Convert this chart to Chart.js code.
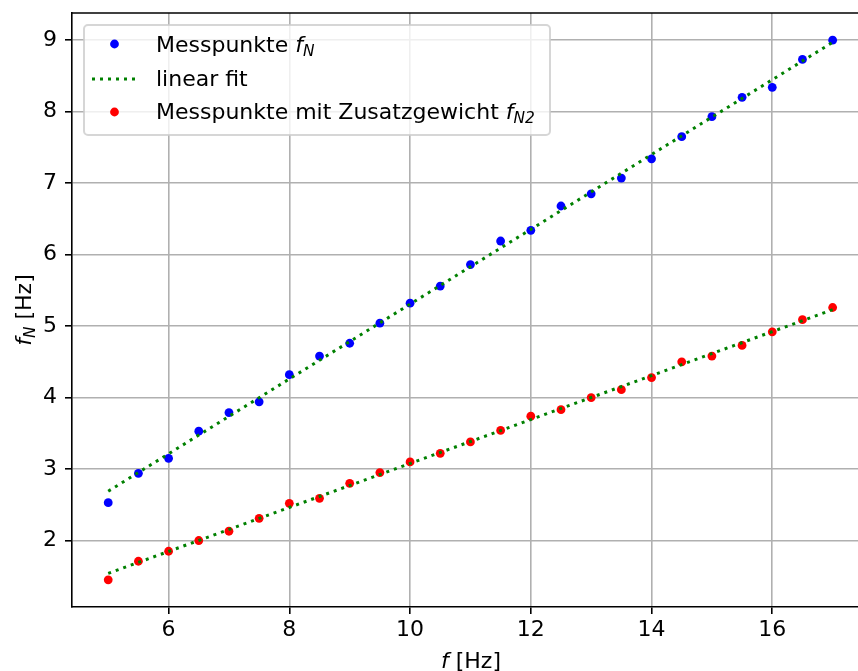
<!DOCTYPE html>
<html>
<head>
<meta charset="utf-8">
<script src="https://cdn.jsdelivr.net/npm/chart.js@4"></script>
<style>
  html, body { margin: 0; padding: 0; background: #fff; }
  #chart { display: block; }
</style>
</head>
<body>
<canvas id="chart" width="858" height="671"></canvas>
<script>
var fVals = [5, 5.5, 6, 6.5, 7, 7.5, 8, 8.5, 9, 9.5, 10, 10.5, 11, 11.5, 12, 12.5, 13, 13.5, 14, 14.5, 15, 15.5, 16, 16.5, 17];
var fN = [2.53, 2.94, 3.15, 3.53, 3.79, 3.94, 4.32, 4.58, 4.76, 5.04, 5.32, 5.56, 5.86, 6.19, 6.34, 6.68, 6.85, 7.07, 7.34, 7.65, 7.93, 8.20, 8.34, 8.73, 9.00];
var fN2 = [1.45, 1.71, 1.85, 2.00, 2.13, 2.31, 2.52, 2.59, 2.80, 2.95, 3.10, 3.22, 3.38, 3.54, 3.74, 3.83, 4.00, 4.11, 4.28, 4.50, 4.58, 4.73, 4.92, 5.09, 5.26];

// fit line end points
var fitX = [5, 17];
var fitN = [2.69, 8.97];
var fitN2 = [1.54, 5.23];

var xTicks = [6, 8, 10, 12, 14, 16];
var yTicks = [2, 3, 4, 5, 6, 7, 8, 9];

var FONT = "'DejaVu Sans', sans-serif";
var FS = 22;

function toPoints(xs, ys) {
  var pts = [];
  for (var i = 0; i < xs.length; i++) pts.push({ x: xs[i], y: ys[i] });
  return pts;
}

// draw text made of parts: {t, it, sub}
function richWidth(ctx, parts, size) {
  var w = 0;
  parts.forEach(function(p) {
    ctx.font = (p.it ? 'italic ' : '') + (p.sub ? size * 0.7 : size) + 'px ' + FONT;
    w += ctx.measureText(p.t).width;
  });
  return w;
}
function drawRich(ctx, parts, x, y, size, align) {
  var cx = align === 'center' ? x - richWidth(ctx, parts, size) / 2 : x;
  ctx.textBaseline = 'alphabetic';
  ctx.textAlign = 'left';
  parts.forEach(function(p) {
    ctx.font = (p.it ? 'italic ' : '') + (p.sub ? size * 0.7 : size) + 'px ' + FONT;
    ctx.fillText(p.t, cx, y + (p.sub ? size * 0.2 : 0));
    cx += ctx.measureText(p.t).width;
  });
}

// no extra room for edge tick labels, the plot box is fixed
function noPad(s) {
  s.paddingTop = 0; s.paddingBottom = 0; s.paddingLeft = 0; s.paddingRight = 0;
}

// top spine, axis titles and legend
var extras = {
  id: 'extras',
  afterDraw: function(chart) {
    var ctx = chart.ctx;
    var a = chart.chartArea;
    ctx.save();
    ctx.strokeStyle = '#000';
    ctx.lineWidth = 1.6;
    ctx.beginPath();
    ctx.moveTo(a.left - 0.8, a.top);
    ctx.lineTo(a.right, a.top);
    ctx.stroke();

    ctx.fillStyle = '#000';
    // x title
    drawRich(ctx, [{ t: 'f', it: true }, { t: ' [Hz]' }], 471, 668, FS, 'center');
    // y title
    ctx.save();
    ctx.translate(31, 310);
    ctx.rotate(-Math.PI / 2);
    drawRich(ctx, [{ t: 'f', it: true }, { t: 'N', it: true, sub: true }, { t: ' [Hz]' }], 0, 0, FS, 'center');
    ctx.restore();

    // legend box
    var bx = 84, by = 25, bw = 466, bh = 110, r = 4;
    ctx.beginPath();
    ctx.moveTo(bx + r, by);
    ctx.arcTo(bx + bw, by, bx + bw, by + bh, r);
    ctx.arcTo(bx + bw, by + bh, bx, by + bh, r);
    ctx.arcTo(bx, by + bh, bx, by, r);
    ctx.arcTo(bx, by, bx + bw, by, r);
    ctx.closePath();
    ctx.fillStyle = 'rgba(255,255,255,0.8)';
    ctx.fill();
    ctx.strokeStyle = 'rgba(204,204,204,0.8)';
    ctx.lineWidth = 2;
    ctx.stroke();

    // legend entries
    ctx.fillStyle = '#0000ff';
    ctx.beginPath(); ctx.arc(114.5, 44, 4.4, 0, Math.PI * 2); ctx.fill();
    ctx.fillStyle = '#ff0000';
    ctx.beginPath(); ctx.arc(114.5, 112, 4.4, 0, Math.PI * 2); ctx.fill();
    ctx.strokeStyle = '#008000';
    ctx.lineWidth = 3;
    ctx.setLineDash([3, 5]);
    ctx.beginPath(); ctx.moveTo(92, 79); ctx.lineTo(138, 79); ctx.stroke();
    ctx.setLineDash([]);

    ctx.fillStyle = '#000';
    drawRich(ctx, [{ t: 'Messpunkte ' }, { t: 'f', it: true }, { t: 'N', it: true, sub: true }], 156, 52, FS);
    drawRich(ctx, [{ t: 'linear fit' }], 156, 86, FS);
    drawRich(ctx, [{ t: 'Messpunkte mit Zusatzgewicht ' }, { t: 'f', it: true }, { t: 'N2', it: true, sub: true }], 156, 119, FS);
    ctx.restore();
  }
};

var ctx = document.getElementById('chart').getContext('2d');
new Chart(ctx, {
  type: 'scatter',
  data: {
    datasets: [
      {
        label: 'Messpunkte f_N',
        data: toPoints(fVals, fN),
        backgroundColor: '#0000ff',
        borderColor: '#0000ff',
        pointRadius: 4.4,
        borderWidth: 0,
        order: 2
      },
      {
        label: 'linear fit',
        data: toPoints(fitX, fitN),
        showLine: true,
        borderColor: '#008000',
        borderWidth: 3,
        borderDash: [3, 5],
        pointRadius: 0,
        order: 1
      },
      {
        label: 'Messpunkte mit Zusatzgewicht f_N2',
        data: toPoints(fVals, fN2),
        backgroundColor: '#ff0000',
        borderColor: '#ff0000',
        pointRadius: 4.4,
        borderWidth: 0,
        order: 2
      },
      {
        label: 'linear fit 2',
        data: toPoints(fitX, fitN2),
        showLine: true,
        borderColor: '#008000',
        borderWidth: 3,
        borderDash: [3, 5],
        pointRadius: 0,
        order: 1
      }
    ]
  },
  options: {
    responsive: false,
    animation: false,
    layout: { autoPadding: false, padding: { top: 13, right: 0, left: 0, bottom: 0 } },
    plugins: {
      legend: { display: false },
      tooltip: { enabled: false }
    },
    scales: {
      x: {
        type: 'linear',
        min: 4.4,
        max: 17.42,
        afterBuildTicks: function(s) { s.ticks = xTicks.map(function(v) { return { value: v }; }); },
        afterFit: function(s) { s.height = 64; noPad(s); },
        grid: { color: '#b0b0b0', lineWidth: 1.6, tickColor: '#000', tickLength: 7 },
        border: { color: '#000', width: 1.6 },
        ticks: { color: '#000', font: { family: FONT, size: FS }, padding: 3, maxRotation: 0 }
      },
      y: {
        type: 'linear',
        min: 1.07,
        max: 9.38,
        afterBuildTicks: function(s) { s.ticks = yTicks.map(function(v) { return { value: v }; }); },
        afterFit: function(s) { s.width = 72; noPad(s); },
        grid: { color: '#b0b0b0', lineWidth: 1.6, tickColor: '#000', tickLength: 7 },
        border: { color: '#000', width: 1.6 },
        ticks: { color: '#000', font: { family: FONT, size: FS }, padding: 8 }
      }
    }
  },
  plugins: [extras]
});
</script>
</body>
</html>
